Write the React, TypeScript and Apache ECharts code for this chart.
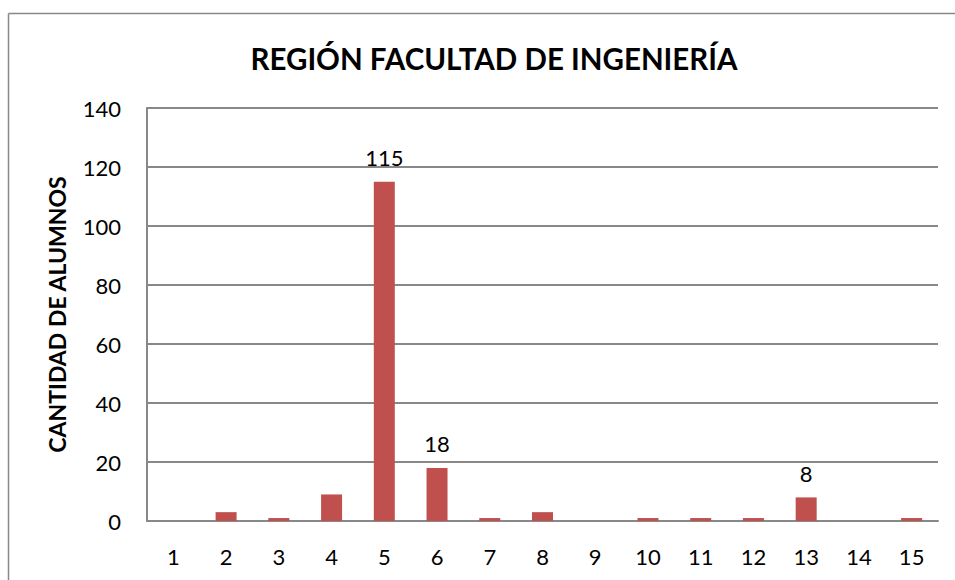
import React, { useEffect, useRef } from "react";
import * as echarts from "echarts";

const categories = ["1", "2", "3", "4", "5", "6", "7", "8", "9", "10", "11", "12", "13", "14", "15"];
const values = [0, 3, 1, 9, 115, 18, 1, 3, 0, 1, 1, 1, 8, 0, 1];
const labeledBars = ["5", "6", "13"];
const titleText = "REGIÓN FACULTAD DE INGENIERÍA";
const yAxisName = "CANTIDAD DE ALUMNOS";

export default function App() {
  const ref = useRef<HTMLDivElement>(null);
  useEffect(() => {
    if (!ref.current) return;
    const chart = echarts.init(ref.current, null, { renderer: "svg" });
    const font = "Lato, 'Open Sans', sans-serif";
    chart.setOption({
      animation: false,
      textStyle: { fontFamily: font },
      title: {
        text: titleText,
        left: 489,
        top: 38,
        textAlign: "center",
        textStyle: { fontFamily: font, fontSize: 29.5, fontWeight: "bold", color: "#000" },
      },
      graphic: [
        {
          type: "line",
          shape: { x1: 8.5, y1: 13.5, x2: 955, y2: 13.5 },
          style: { stroke: "#888", lineWidth: 1.5 },
          silent: true,
        },
        {
          type: "line",
          shape: { x1: 8.5, y1: 13.5, x2: 8.5, y2: 580 },
          style: { stroke: "#888", lineWidth: 1.5 },
          silent: true,
        },
      ],
      grid: { left: 147, right: 17, top: 108, bottom: 59 },
      xAxis: {
        type: "category",
        data: categories,
        axisLine: { lineStyle: { color: "#888", width: 2 } },
        axisTick: { show: false },
        axisLabel: { fontFamily: font, fontSize: 22, color: "#000", margin: 24 },
      },
      yAxis: {
        type: "value",
        min: 0,
        max: 140,
        interval: 20,
        name: yAxisName,
        nameLocation: "middle",
        nameGap: 79,
        nameTextStyle: { fontFamily: font, fontSize: 23, fontWeight: "bold", color: "#000" },
        axisLine: { show: true, lineStyle: { color: "#888", width: 2 } },
        axisTick: { show: false },
        splitLine: { lineStyle: { color: "#888", width: 2 } },
        axisLabel: { fontFamily: font, fontSize: 22, color: "#000", margin: 26 },
      },
      series: [
        {
          type: "bar",
          data: values.map((v, i) => ({
            value: v,
            label: { show: labeledBars.includes(categories[i]) },
          })),
          barWidth: 21,
          itemStyle: { color: "#C0504D" },
          label: {
            show: false,
            position: "top",
            distance: 13,
            fontFamily: font,
            fontSize: 22,
            color: "#000",
          },
        },
      ],
    });
    return () => chart.dispose();
  }, []);
  return (
    <div
      ref={ref}
      style={{ position: "absolute", left: 0, top: 0, width: 955, height: 580 }}
    />
  );
}
